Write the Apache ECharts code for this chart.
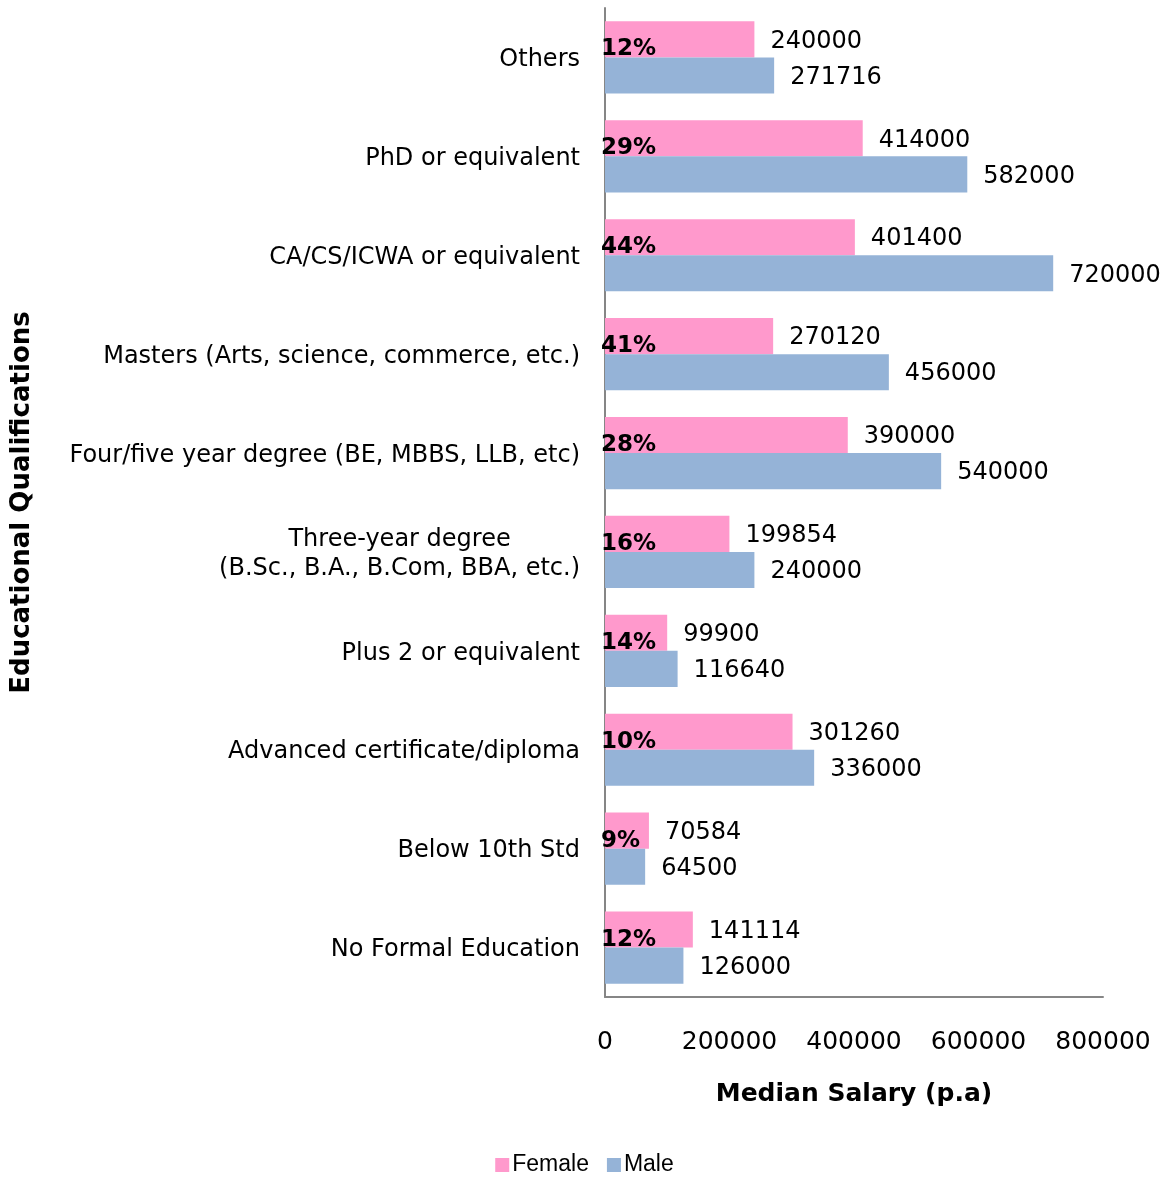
<!DOCTYPE html>
<html>
<head>
<meta charset="utf-8">
<script src="https://cdn.jsdelivr.net/npm/echarts@6/dist/echarts.min.js"></script>
<style>
html,body{margin:0;padding:0;background:#fff;}
#c{width:1169px;height:1178px;}
</style>
</head>
<body>
<div id="c"></div>
<script>
const categories = [
  'Others',
  'PhD or equivalent',
  'CA/CS/ICWA or equivalent',
  'Masters (Arts, science, commerce, etc.)',
  'Four/five year degree (BE, MBBS, LLB, etc)',
  'Three-year degree\n(B.Sc., B.A., B.Com, BBA, etc.)',
  'Plus 2 or equivalent',
  'Advanced certificate/diploma',
  'Below 10th Std',
  'No Formal Education'
];
const female = [240000, 414000, 401400, 270120, 390000, 199854, 99900, 301260, 70584, 141114];
const male = [271716, 582000, 720000, 456000, 540000, 240000, 116640, 336000, 64500, 126000];
const gapPct = ['12%', '29%', '44%', '41%', '28%', '16%', '14%', '10%', '9%', '12%'];
const xTicks = [0, 200000, 400000, 600000, 800000];

const FONT = '"DejaVu Sans", Verdana, sans-serif';
const chart = echarts.init(document.getElementById('c'));
chart.setOption({
  animation: false,
  backgroundColor: '#ffffff',
  grid: { left: 605, right: 66, top: 8, bottom: 181, containLabel: false },
  legend: {
    data: ['Female', 'Male'],
    bottom: 0,
    left: 'center',
    padding: [0, 0, 0, 0],
    itemWidth: 14,
    itemHeight: 14,
    itemGap: 18,
    icon: 'rect',
    textStyle: { fontFamily: '"Liberation Sans", Arial, sans-serif', fontSize: 23, color: '#000', lineHeight: 26, padding: [0, 0, 0, -2] }
  },
  xAxis: {
    type: 'value',
    min: xTicks[0],
    max: xTicks[xTicks.length - 1],
    interval: 200000,
    name: 'Median Salary (p.a)',
    nameLocation: 'middle',
    nameGap: 85,
    nameTextStyle: { fontFamily: FONT, fontSize: 25, fontWeight: 'bold', color: '#000' },
    axisLine: { show: true, lineStyle: { color: '#868686', width: 2 } },
    axisTick: { show: false },
    splitLine: { show: false },
    axisLabel: { fontFamily: FONT, fontSize: 25, color: '#000', margin: 33, formatter: function (v) { return String(v); } }
  },
  yAxis: {
    type: 'category',
    inverse: true,
    data: categories,
    name: 'Educational Qualifications',
    nameLocation: 'middle',
    nameGap: 570,
    nameRotate: 90,
    nameTextStyle: { fontFamily: FONT, fontSize: 26, fontWeight: 'bold', color: '#000' },
    axisLine: { show: true, lineStyle: { color: '#868686', width: 2 } },
    axisTick: { show: false },
    axisLabel: {
      margin: 25,
      fontFamily: FONT, fontSize: 24, color: '#000',
      formatter: function (v) {
        return v.split('\n').map(function (s) { return '{a|' + s + '}'; }).join('\n');
      },
      rich: { a: { fontFamily: FONT, fontSize: 24, color: '#000', align: 'center', lineHeight: 29, padding: [5, 0, 0, 0] } }
    }
  },
  series: [
    {
      name: 'Female',
      type: 'bar',
      data: female,
      barGap: '0%',
      barCategoryGap: '27%',
      itemStyle: { color: '#FF99CC' },
      label: { show: true, position: 'right', distance: 16, offset: [0, 2], fontFamily: FONT, fontSize: 24, color: '#000' }
    },
    {
      name: 'Male',
      type: 'bar',
      data: male,
      barGap: '0%',
      barCategoryGap: '27%',
      itemStyle: { color: '#95B3D7' },
      label: { show: true, position: 'right', distance: 16, offset: [0, 2], fontFamily: FONT, fontSize: 24, color: '#000' }
    },
    {
      name: 'Gap',
      type: 'scatter',
      data: gapPct.map(function (p, i) { return [0, categories[i]]; }),
      symbolSize: 0,
      silent: true,
      z: 5,
      itemStyle: { opacity: 1 },
      label: {
        show: true, position: 'right', distance: 0, offset: [-4, -8], opacity: 1,
        formatter: function (p) { return gapPct[p.dataIndex]; },
        fontFamily: FONT, fontSize: 23, fontWeight: 'bold', color: '#000'
      }
    }
  ]
});
</script>
</body>
</html>
